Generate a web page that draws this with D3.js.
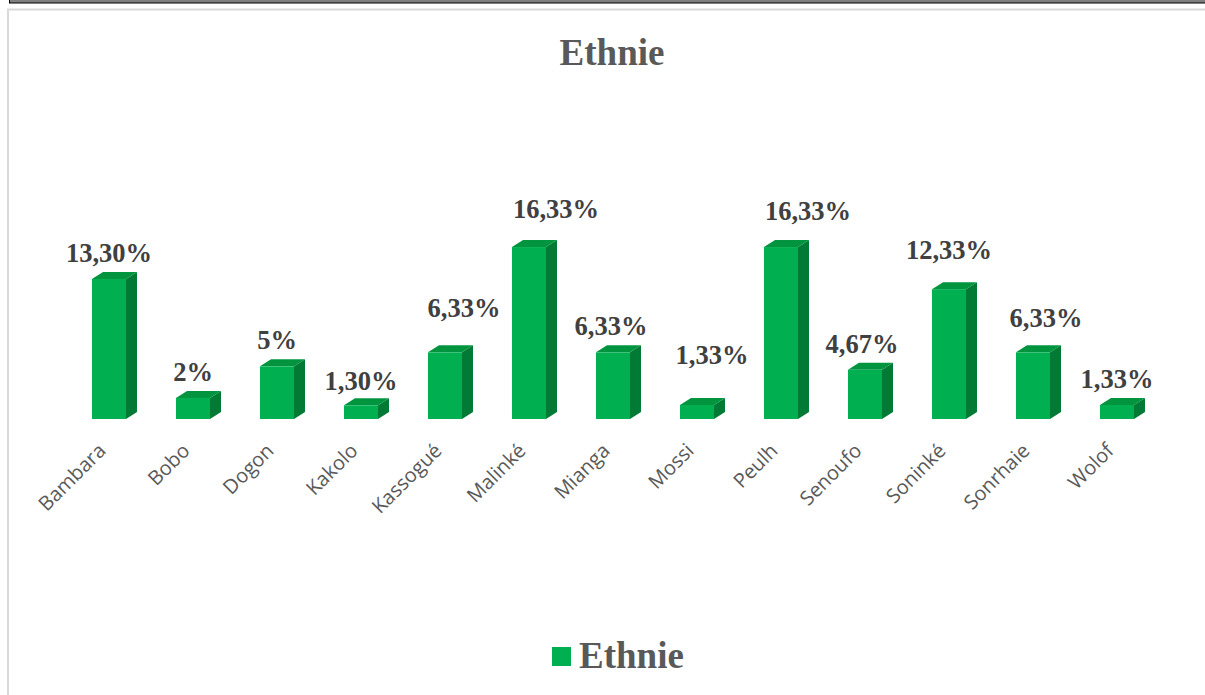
<!DOCTYPE html>
<html>
<head>
<meta charset="utf-8">
<script src="https://cdn.jsdelivr.net/npm/d3@7"></script>
<style>
  body { margin: 0; background: #fff; }
  svg { display: block; }
</style>
</head>
<body>
<div id="chart"></div>
<script>
// Ethnie distribution (%)
const categories = ["Bambara", "Bobo", "Dogon", "Kakolo", "Kassogué", "Malinké", "Mianga", "Mossi", "Peulh", "Senoufo", "Soninké", "Sonrhaie", "Wolof"];
const values = [13.30, 2, 5, 1.30, 6.33, 16.33, 6.33, 1.33, 16.33, 4.67, 12.33, 6.33, 1.33];
const valueLabels = ["13,30%", "2%", "5%", "1,30%", "6,33%", "16,33%", "6,33%", "1,33%", "16,33%", "4,67%", "12,33%", "6,33%", "1,33%"];
// labels were dragged by hand in the original, so keep their nudges (px)
const labelNudgeX = [0, 0, 0, 0, 19, 27, -2, 15, 27, -3, 0, 13, 0];
const labelNudgeY = [0, 0, 0, 2, -18, -12, 0, -24, -10, 0, -13, -8, 0];
const seriesName = "Ethnie";

const W = 1205, H = 695;
const depthX = 11, depthY = 7; // fake 3D depth
const colFront = "#00B050", colSide = "#007A35", colTop = "#00943F";
const textGrey = "#595959";

const svg = d3.select("#chart").append("svg")
    .attr("width", W)
    .attr("height", H);

// frame bits around the chart
svg.append("rect")
    .attr("x", 9.5).attr("y", -2).attr("width", W).attr("height", 5)
    .attr("fill", "#7f7f7f").attr("stroke", "#000").attr("stroke-width", 1);
svg.append("rect")
    .attr("x", 8).attr("y", 9.5).attr("width", W + 10).attr("height", H + 10)
    .attr("fill", "#fff").attr("stroke", "#d9d9d9").attr("stroke-width", 2);

// title
svg.append("text")
    .attr("x", 612).attr("y", 65)
    .attr("text-anchor", "middle")
    .style("font-family", "'Liberation Serif', 'Times New Roman', serif")
    .style("font-weight", "bold")
    .style("font-size", "37px")
    .attr("fill", textGrey)
    .text(seriesName);

// scales
const x = d3.scaleBand().domain(categories).range([67, 1159]).paddingInner(0.595).paddingOuter(0.2975);
const y = d3.scaleLinear().domain([0, 20]).range([419, 208.4]);
const bw = x.bandwidth();

const data = categories.map((c, i) => ({ cat: c, v: values[i], label: valueLabels[i], nx: labelNudgeX[i], ny: labelNudgeY[i] }));

const bars = svg.append("g").selectAll("g.bar")
    .data(data)
    .enter().append("g")
    .attr("class", "bar");

// side face
bars.append("path")
    .attr("d", d => {
        const x1 = x(d.cat) + bw, t = y(d.v), b = y(0);
        return `M${x1},${t} L${x1 + depthX},${t - depthY} L${x1 + depthX},${b - depthY} L${x1},${b} Z`;
    })
    .attr("fill", colSide);

// top face
bars.append("path")
    .attr("d", d => {
        const x0 = x(d.cat), t = y(d.v);
        return `M${x0},${t} L${x0 + depthX},${t - depthY} L${x0 + bw + depthX},${t - depthY} L${x0 + bw},${t} Z`;
    })
    .attr("fill", colTop);

// front face
bars.append("rect")
    .attr("x", d => x(d.cat))
    .attr("y", d => y(d.v))
    .attr("width", bw)
    .attr("height", d => y(0) - y(d.v))
    .attr("fill", colFront);

// value labels
svg.append("g").selectAll("text")
    .data(data)
    .enter().append("text")
    .attr("x", d => x(d.cat) + bw / 2 + d.nx)
    .attr("y", d => y(d.v) - 17 + d.ny)
    .attr("text-anchor", "middle")
    .style("font-family", "'Liberation Serif', 'Times New Roman', serif")
    .style("font-weight", "bold")
    .style("font-size", "26.5px")
    .attr("fill", "#404040")
    .text(d => d.label);

// category axis (rotated labels, no line)
svg.append("g").selectAll("text")
    .data(categories)
    .enter().append("text")
    .attr("transform", d => `translate(${x(d) + bw / 2 - 2},${452}) rotate(-45)`)
    .attr("text-anchor", "end")
    .style("font-family", "'Open Sans', sans-serif")
    .style("font-size", "20px")
    .attr("fill", textGrey)
    .text(d => d);

// legend
const legend = svg.append("g");
legend.append("rect")
    .attr("x", 552).attr("y", 647).attr("width", 19).attr("height", 19)
    .attr("fill", colFront);
legend.append("text")
    .attr("x", 579).attr("y", 668)
    .style("font-family", "'Liberation Serif', 'Times New Roman', serif")
    .style("font-weight", "bold")
    .style("font-size", "37px")
    .attr("fill", textGrey)
    .text(seriesName);
</script>
</body>
</html>
